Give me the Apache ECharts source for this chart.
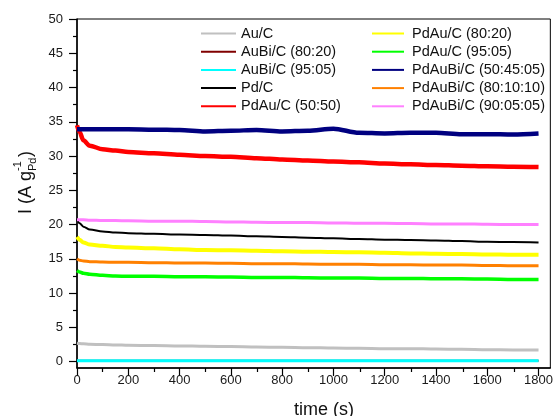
<!DOCTYPE html>
<html>
<head>
<meta charset="utf-8">
<script src="https://cdn.jsdelivr.net/npm/echarts@6/dist/echarts.min.js"></script>
<style>html,body{margin:0;padding:0;background:#fff;}#c{width:556px;height:416px;}</style>
</head>
<body>
<div id="c"></div>
<script>
// ---- data ----
const times = [0,10,25,50,100,150,200,300,400,500,600,700,800,900,1000,1100,1200,1300,1400,1500,1600,1700,1800];
const auC      = [2.7,2.65,2.6,2.55,2.5,2.45,2.4,2.35,2.3,2.25,2.2,2.15,2.1,2.05,2.0,1.95,1.9,1.9,1.85,1.8,1.75,1.72,1.7];
const auBi8020 = [0.15,0.15,0.15,0.15,0.15,0.15,0.15,0.15,0.15,0.15,0.15,0.15,0.15,0.15,0.15,0.15,0.15,0.15,0.15,0.15,0.15,0.15,0.15];
const auBi9505 = [0.15,0.15,0.15,0.15,0.15,0.15,0.15,0.15,0.15,0.15,0.15,0.15,0.15,0.15,0.15,0.15,0.15,0.15,0.15,0.15,0.15,0.15,0.15];
const pdC      = [20.8,20.2,19.7,19.3,19.0,18.85,18.75,18.65,18.55,18.5,18.4,18.3,18.2,18.1,18.0,17.9,17.8,17.75,17.7,17.6,17.5,17.45,17.4];
const pdAu5050 = [34.5,33.5,32.3,31.5,31.0,30.8,30.6,30.4,30.2,30.0,29.9,29.7,29.5,29.35,29.2,29.1,28.9,28.8,28.7,28.6,28.5,28.45,28.4];
const pdAu8020 = [18.2,17.8,17.4,17.1,16.9,16.75,16.65,16.55,16.4,16.3,16.25,16.2,16.1,16.05,16.0,15.95,15.9,15.8,15.75,15.7,15.65,15.6,15.6];
const pdAu9505 = [13.3,13.1,12.9,12.75,12.6,12.5,12.45,12.45,12.4,12.4,12.35,12.3,12.3,12.25,12.2,12.2,12.15,12.15,12.1,12.1,12.05,12.0,12.0];
const pdAuBi504505 = [33.9,33.9,33.9,33.9,33.9,33.9,33.9,33.85,33.8,33.6,33.7,33.8,33.6,33.7,34.0,33.4,33.3,33.4,33.4,33.2,33.2,33.15,33.3];
const pdAuBi801010 = [15.0,14.8,14.7,14.6,14.55,14.5,14.5,14.45,14.4,14.4,14.35,14.3,14.3,14.25,14.2,14.2,14.15,14.15,14.1,14.1,14.05,14.0,14.0];
const pdAuBi900505 = [20.7,20.7,20.7,20.65,20.6,20.6,20.55,20.5,20.5,20.45,20.4,20.35,20.3,20.3,20.25,20.2,20.2,20.15,20.1,20.1,20.05,20.0,20.0];

const names = ['Au/C','AuBi/C (80:20)','AuBi/C (95:05)','Pd/C','PdAu/C (50:50)',
               'PdAu/C (80:20)','PdAu/C (95:05)','PdAuBi/C (50:45:05)','PdAuBi/C (80:10:10)','PdAuBi/C (90:05:05)'];
const values = [auC, auBi8020, auBi9505, pdC, pdAu5050, pdAu8020, pdAu9505, pdAuBi504505, pdAuBi801010, pdAuBi900505];

const xMajor = [0,200,400,600,800,1000,1200,1400,1600,1800];
const xMinor = [100,300,500,700,900,1100,1300,1500,1700];
const yMajor = [0,5,10,15,20,25,30,35,40,45,50];
const yMinor = [2.5,7.5,12.5,17.5,22.5,27.5,32.5,37.5,42.5,47.5];

// ---- styles ----
const colors = ['#c0c0c0','#800000','#00ffff','#000000','#ff0000','#ffff00','#00ff00','#000080','#ff8000','#ff80ff'];
const widths = [3,2,3,2,4.5,4,3.5,4.5,3,3];
const zs     = [2,1,3,4,6,4,4,6,4,4];

const FONT = 'Liberation Sans, Arial, Helvetica, sans-serif';
const X_MIN = 0, X_MAX = 1846, Y_MIN = -0.92, Y_MAX = 50;
const gridPos = {left: 77, right: 4, top: 19, bottom: 48};

const series = names.map((n, i) => ({
  name: n, type: 'line', xAxisIndex: 0, yAxisIndex: 0,
  data: times.map((t, k) => [t, values[i][k]]),
  showSymbol: false, symbol: 'none', smooth: 0.3, smoothMonotone: 'x',
  lineStyle: {color: colors[i], width: widths[i]}, itemStyle: {color: colors[i]},
  z: zs[i]
}));

const legendBase = {
  orient: 'vertical', top: 26, padding: 0, itemHeight: 14, itemGap: 3.2, selectedMode: false,
  itemStyle: {opacity: 0, borderWidth: 0},
};

const chart = echarts.init(document.getElementById('c'), null, {renderer: 'canvas'});
chart.setOption({
  animation: false,
  backgroundColor: '#ffffff',
  grid: [
    Object.assign({show: true, borderColor: '#000', borderWidth: 1, backgroundColor: 'transparent'}, gridPos),
    Object.assign({show: false}, gridPos)
  ],
  legend: [
    Object.assign({}, legendBase, {
      left: 200, itemWidth: 35, data: names.slice(0,5),
      textStyle: {fontFamily: FONT, fontSize: 14.5, color: '#111'}
    }),
    Object.assign({}, legendBase, {
      left: 371, itemWidth: 32, data: names.slice(5),
      textStyle: {fontFamily: FONT, fontSize: 14.5, color: '#111', padding: [0,0,0,3]}
    })
  ],
  xAxis: [
    {
      type: 'value', gridIndex: 0, min: X_MIN, max: X_MAX, position: 'bottom',
      axisLine: {show: true, onZero: false, lineStyle: {color: '#000', width: 1.5}},
      axisTick: {show: true, inside: false, length: 8, customValues: xMajor, lineStyle: {color: '#000', width: 1.2}},
      axisLabel: {show: true, customValues: xMajor, margin: 6, fontFamily: FONT, fontSize: 13, color: '#1a1a1a',
                  formatter: v => String(v)},
      splitLine: {show: false}
    },
    {
      type: 'value', gridIndex: 1, min: X_MIN, max: X_MAX, position: 'bottom',
      axisLine: {show: false, onZero: false},
      axisTick: {show: true, inside: false, length: 4, customValues: xMinor, lineStyle: {color: '#000', width: 1.2}},
      axisLabel: {show: false}, splitLine: {show: false}
    }
  ],
  yAxis: [
    {
      type: 'value', gridIndex: 0, min: Y_MIN, max: Y_MAX, position: 'left',
      axisLine: {show: true, onZero: false, lineStyle: {color: '#000', width: 1.5}},
      axisTick: {show: true, inside: false, length: 8, customValues: yMajor, lineStyle: {color: '#000', width: 1.2}},
      axisLabel: {show: true, customValues: yMajor, margin: 14, fontFamily: FONT, fontSize: 13, color: '#1a1a1a',
                  formatter: v => String(v)},
      splitLine: {show: false}
    },
    {
      type: 'value', gridIndex: 1, min: Y_MIN, max: Y_MAX, position: 'left',
      axisLine: {show: false, onZero: false},
      axisTick: {show: true, inside: false, length: 4, customValues: yMinor, lineStyle: {color: '#000', width: 1.2}},
      axisLabel: {show: false}, splitLine: {show: false}
    }
  ],
  graphic: [
    {
      type: 'text', left: 294, top: 401,
      style: {text: 'time (s)', font: '18px ' + FONT, fill: '#111'}
    },
    {
      type: 'group', x: 26.5, y: 182, rotation: Math.PI / 2,
      children: [
        {type: 'text', x: -32, y: 0, style: {text: 'I (A g', font: '18px ' + FONT, fill: '#111', textAlign: 'left', textVerticalAlign: 'middle'}},
        {type: 'text', x: 11, y: -9, style: {text: '-1', font: '11px ' + FONT, fill: '#111', textAlign: 'left', textVerticalAlign: 'middle'}},
        {type: 'text', x: 11, y: 6, style: {text: 'Pd', font: '11px ' + FONT, fill: '#111', textAlign: 'left', textVerticalAlign: 'middle'}},
        {type: 'text', x: 25, y: 0, style: {text: ')', font: '18px ' + FONT, fill: '#111', textAlign: 'left', textVerticalAlign: 'middle'}}
      ]
    }
  ],
  series: series
});
</script>
</body>
</html>
